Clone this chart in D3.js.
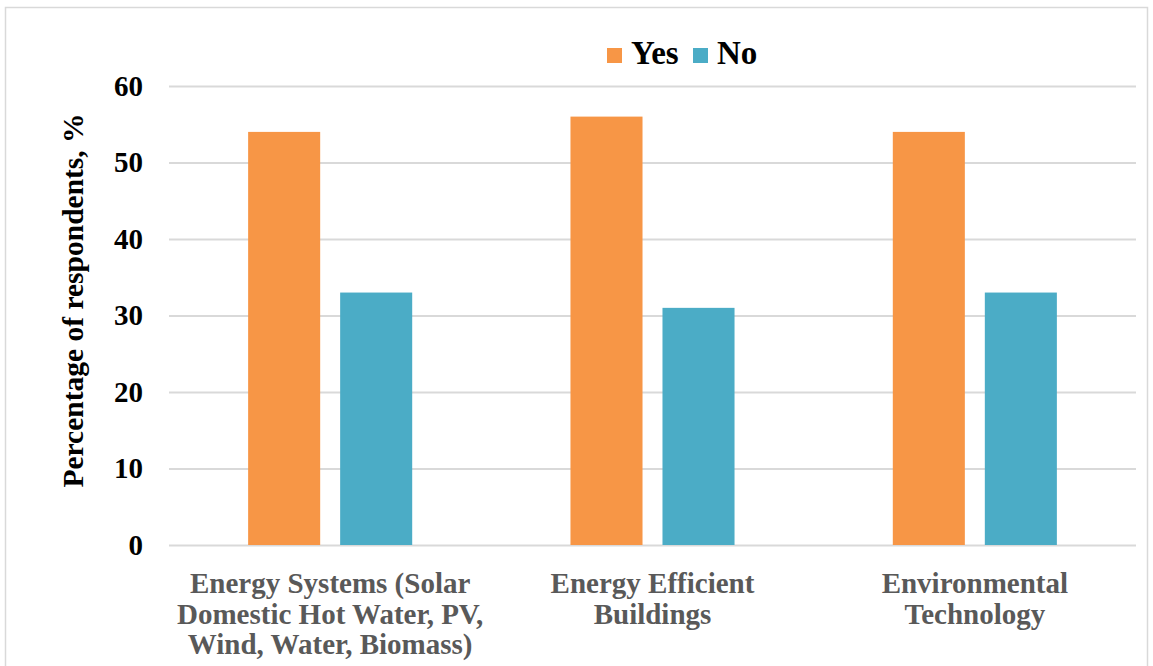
<!DOCTYPE html>
<html>
<head>
<meta charset="utf-8">
<script src="https://cdn.jsdelivr.net/npm/d3@7"></script>
<style>
  body { margin: 0; background: #fff; }
  svg text { font-family: "Liberation Serif", "Times New Roman", serif; font-weight: bold; }
</style>
</head>
<body>
<div id="chart"></div>
<script>
// Data
const categories = [
  ["Energy Systems (Solar", "Domestic Hot Water, PV,", "Wind, Water, Biomass)"],
  ["Energy Efficient", "Buildings"],
  ["Environmental", "Technology"]
];
const seriesNames = ["Yes", "No"];
const yesValues = [54, 56, 54];
const noValues = [33, 31, 33];
const yTicks = [0, 10, 20, 30, 40, 50, 60];
const colors = { Yes: "#F79646", No: "#4BACC6" };

const width = 1153, height = 666;
const margin = { top: 86, right: 17, bottom: 121, left: 169 };
const innerW = width - margin.left - margin.right;
const innerH = height - margin.top - margin.bottom;

const svg = d3.select("#chart").append("svg")
  .attr("width", width)
  .attr("height", height);

// Outer chart frame
svg.append("rect")
  .attr("x", 5.5).attr("y", 7.5)
  .attr("width", 1142).attr("height", 670)
  .attr("fill", "none")
  .attr("stroke", "#d9d9d9")
  .attr("stroke-width", 1.5);

const g = svg.append("g").attr("transform", `translate(${margin.left},${margin.top})`);

const keys = categories.map((c, i) => i);
const x0 = d3.scaleBand().domain(keys).range([0, innerW]).padding(0);
const x1 = d3.scaleBand().domain(seriesNames)
  .range([0, x0.bandwidth()]).paddingInner(0.217).paddingOuter(0.86);
const y = d3.scaleLinear().domain([0, 60]).range([innerH, 0]);

// Gridlines
g.append("g")
  .call(d3.axisLeft(y).tickValues(yTicks).tickSize(-innerW).tickFormat(""))
  .call(a => a.select(".domain").remove())
  .selectAll("line")
  .attr("stroke", "#d9d9d9")
  .attr("stroke-width", 2);

// Y tick labels
const yAxis = g.append("g")
  .call(d3.axisLeft(y).tickValues(yTicks).tickSize(0).tickPadding(26))
  .call(a => a.select(".domain").remove());
yAxis.selectAll("text")
  .attr("font-size", 29)
  .attr("fill", "#000")
  .style("font-family", "'Liberation Serif', serif");

// Bars
const data = keys.map(i => ({ i, Yes: yesValues[i], No: noValues[i] }));
const groups = g.selectAll(".grp").data(data).enter().append("g")
  .attr("transform", d => `translate(${x0(d.i)},0)`);
groups.selectAll("rect")
  .data(d => seriesNames.map(k => ({ k, v: d[k] })))
  .enter().append("rect")
  .attr("x", d => x1(d.k))
  .attr("y", d => y(d.v))
  .attr("width", x1.bandwidth())
  .attr("height", d => y(0) - y(d.v))
  .attr("fill", d => colors[d.k]);

// Category labels
const lineH = 30.5;
keys.forEach(i => {
  const t = g.append("text")
    .attr("x", x0(i) + x0.bandwidth() / 2)
    .attr("y", innerH + 48)
    .attr("text-anchor", "middle")
    .attr("font-size", 29)
    .attr("fill", "#595959");
  categories[i].forEach((line, j) => {
    t.append("tspan")
      .attr("x", x0(i) + x0.bandwidth() / 2)
      .attr("dy", j === 0 ? 0 : lineH)
      .text(line);
  });
});

// Y axis title
svg.append("text")
  .attr("transform", `translate(83,${margin.top + innerH / 2 - 15}) rotate(-90)`)
  .attr("text-anchor", "middle")
  .attr("font-size", 29.5)
  .attr("fill", "#000")
  .text("Percentage of respondents, %");

// Legend
const legend = svg.append("g").attr("transform", "translate(607,48)");
const legendItems = [{ k: "Yes", x: 0 }, { k: "No", x: 86 }];
legendItems.forEach(d => {
  legend.append("rect")
    .attr("x", d.x).attr("y", 0)
    .attr("width", 15).attr("height", 15)
    .attr("fill", colors[d.k]);
  legend.append("text")
    .attr("x", d.x + 24).attr("y", 16)
    .attr("font-size", 33)
    .attr("fill", "#000")
    .text(d.k);
});
</script>
</body>
</html>
